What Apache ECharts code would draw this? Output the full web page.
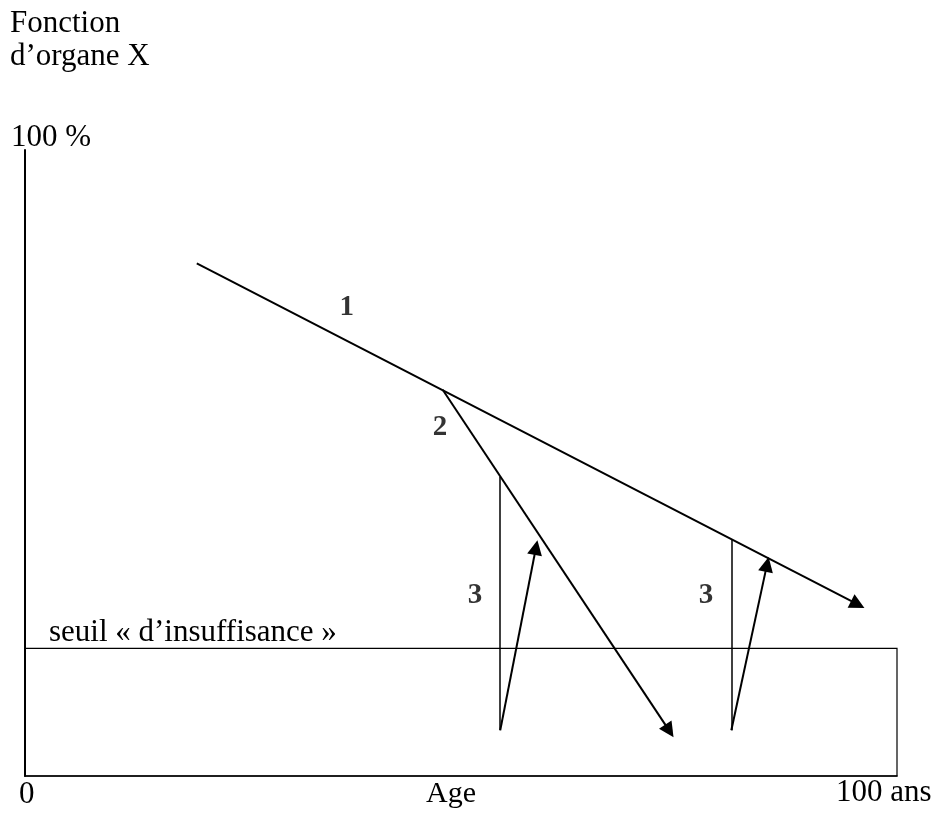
<!DOCTYPE html>
<html>
<head>
<meta charset="utf-8">
<script src="https://cdn.jsdelivr.net/npm/echarts@6/dist/echarts.min.js"></script>
<style>
  html, body { margin: 0; padding: 0; background: #fff; }
  #chart { width: 938px; height: 815px; }
</style>
</head>
<body>
<div id="chart"></div>
<script>
// axis range (age 0..100 ans, fonction 0..100 %)
const xRange = [0, 100];
const yRange = [0, 100];

// seuil d'insuffisance
const seuil = 20.4;

// 1 : vieillissement normal
const line1 = [[19.7, 81.9], [95.5, 27.4]];
// 2 : déclin accéléré
const line2 = [[47.9, 61.7], [73.9, 7.2]];
// 3 : décompensation puis récupération
const stem1 = [[54.5, 47.8], [54.5, 7.3]];
const rise1 = [[54.5, 7.3], [58.6, 36.5]];
const stem2 = [[81.0, 37.8], [81.0, 7.3]];
const rise2 = [[81.0, 7.3], [85.1, 33.8]];

// numbered annotations
const marks = [[36.9, 74.9, '1'], [47.6, 55.6, '2'], [51.6, 28.9, '3'], [78.1, 28.8, '3']];

const FONT = '"Liberation Serif", "Times New Roman", serif';

const chart = echarts.init(document.getElementById('chart'));

function txt(text, left, top, size) {
  return { type: 'text', left: left, top: top, style: { text: text, font: size + 'px ' + FONT, fill: '#000' } };
}

const option = {
  animation: false,
  backgroundColor: '#fff',
  grid: { left: 25, right: 41, top: 150, bottom: 39 },
  xAxis: {
    type: 'value',
    min: xRange[0],
    max: xRange[1],
    axisLine: { show: true, onZero: false, lineStyle: { color: '#000', width: 1.5 } },
    axisTick: { show: false },
    axisLabel: { show: false },
    splitLine: { show: false }
  },
  yAxis: {
    type: 'value',
    min: yRange[0],
    max: yRange[1],
    axisLine: { show: true, onZero: false, lineStyle: { color: '#000', width: 2 } },
    axisTick: { show: false },
    axisLabel: { show: false },
    splitLine: { show: false }
  },
  graphic: [
    txt('Fonction', 10, 8, 31),
    txt('d\u2019organe X', 10, 41, 31),
    txt('100 %', 11, 122, 31),
    txt('0', 19, 779, 31),
    txt('Age', 426, 779, 30),
    txt('100 ans', 836, 777, 31),
    txt('seuil \u00ab d\u2019insuffisance \u00bb', 49, 617, 31)
  ],
  series: [
    {
      type: 'line',
      data: [],
      markArea: {
        silent: true,
        itemStyle: { color: 'rgba(0,0,0,0)', borderColor: '#000', borderWidth: 1.2 },
        data: [[{ coord: [xRange[0], yRange[0]] }, { coord: [xRange[1], seuil] }]]
      }
    },
    {
      type: 'lines',
      coordinateSystem: 'cartesian2d',
      symbol: ['none', 'triangle'],
      symbolSize: 15,
      lineStyle: { color: '#000', width: 2, opacity: 1 },
      data: [line1, line2, rise1, rise2].map(c => ({ coords: c }))
    },
    {
      type: 'lines',
      coordinateSystem: 'cartesian2d',
      symbol: ['none', 'none'],
      lineStyle: { color: '#000', width: 1.5, opacity: 1 },
      data: [stem1, stem2].map(c => ({ coords: c }))
    },
    {
      type: 'scatter',
      symbolSize: 0,
      data: marks,
      label: {
        show: true,
        position: 'inside',
        formatter: p => p.data[2],
        fontFamily: FONT,
        fontWeight: 'bold',
        fontSize: 29,
        color: '#000'
      }
    }
  ]
};

chart.setOption(option);
</script>
</body>
</html>
